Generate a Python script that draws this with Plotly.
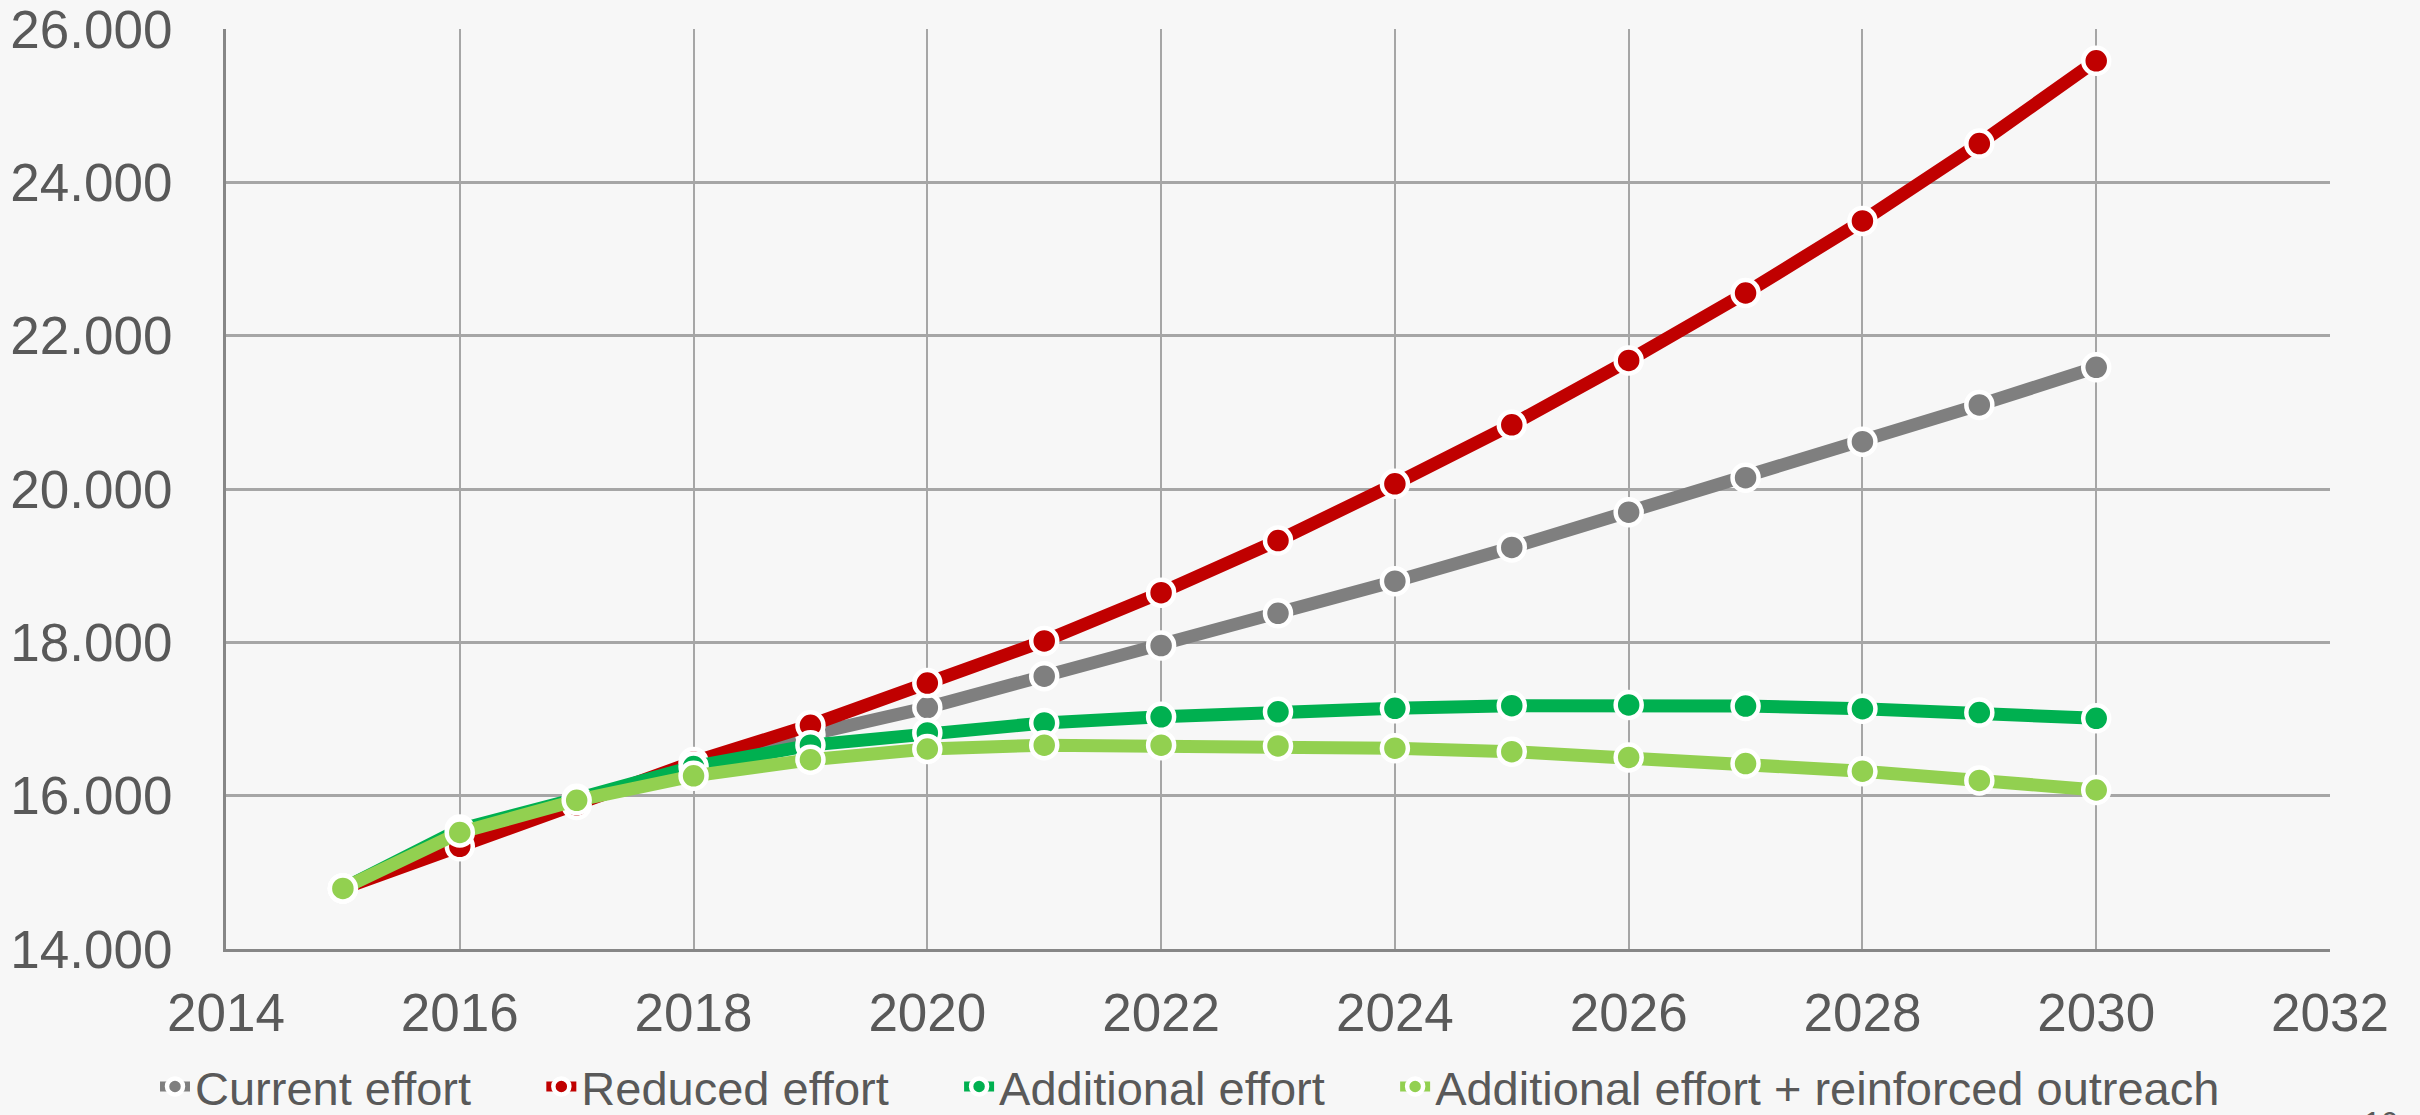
import plotly.graph_objects as go

years = list(range(2015, 2031))

current_effort = [14790, 15500, 15920, 16380, 16800, 17150, 17560, 17960, 18380, 18800,
                  19240, 19700, 20150, 20620, 21100, 21590]
reduced_effort = [14790, 15340, 15880, 16440, 16920, 17470, 18020, 18650, 19330, 20070,
                  20840, 21680, 22560, 23500, 24510, 25590]
additional_effort = [14790, 15560, 15960, 16380, 16660, 16820, 16950, 17030, 17095, 17140,
                     17175, 17185, 17170, 17135, 17085, 17010]
additional_outreach = [14790, 15520, 15940, 16260, 16470, 16610, 16660, 16660, 16650, 16620,
                       16575, 16500, 16420, 16320, 16200, 16075]

series = [
    ("Current effort", current_effort, "#7f7f7f"),
    ("Reduced effort", reduced_effort, "#c00000"),
    ("Additional effort", additional_effort, "#00b050"),
    ("Additional effort + reinforced outreach", additional_outreach, "#92d050"),
]

x_ticks = list(range(2014, 2033, 2))
y_ticks = list(range(14000, 26001, 2000))

W, H = 2420, 1115
L, R, T, B = 226, 90, 29, 166

fig = go.Figure()
for i, (name, vals, col) in enumerate(series):
    pad = "\u00a0" * 5 if i < len(series) - 1 else ""
    fig.add_trace(go.Scatter(
        x=years, y=vals, name=name + pad, mode="lines+markers",
        line=dict(color=col, width=13),
        marker=dict(color=col, size=26, line=dict(color="white", width=4.5)),
    ))

font_col = "#595959"
fig.update_layout(
    width=W, height=H,
    margin=dict(l=L, r=R, t=T, b=B, autoexpand=False),
    paper_bgcolor="#f7f7f7", plot_bgcolor="#f7f7f7",
    font=dict(family="Liberation Sans, Arial, sans-serif", color=font_col),
    separators=",.",
    showlegend=True,
    legend=dict(
        orientation="h", xref="container", yref="container",
        x=155 / W, xanchor="left", y=(H - 1087) / H, yanchor="middle",
        font=dict(size=47, color=font_col),
        bgcolor="rgba(0,0,0,0)",
    ),
    xaxis=dict(
        range=[2014, 2032], tickvals=x_ticks, tickformat="d",
        showgrid=True, gridcolor="#a6a6a6", gridwidth=2,
        showline=True, linecolor="#878787", linewidth=3, mirror=False,
        zeroline=False, ticks="", tickfont=dict(size=53, color=font_col),
        ticklabelstandoff=15,
    ),
    yaxis=dict(
        range=[14000, 26005], tickvals=y_ticks, tickformat=",d",
        showgrid=True, gridcolor="#a6a6a6", gridwidth=3,
        showline=True, linecolor="#878787", linewidth=3,
        zeroline=False, ticks="", tickfont=dict(size=53, color=font_col),
        ticklabelstandoff=40, ticklabeloverflow="allow",
    ),
    annotations=[dict(
        text="16", xref="paper", yref="paper",
        x=(2380 - L) / (W - L - R), y=(949 - 1103) / 920,
        xanchor="center", yanchor="top", showarrow=False,
        font=dict(size=30, color=font_col),
    )],
)

fig.write_html("out.html")
